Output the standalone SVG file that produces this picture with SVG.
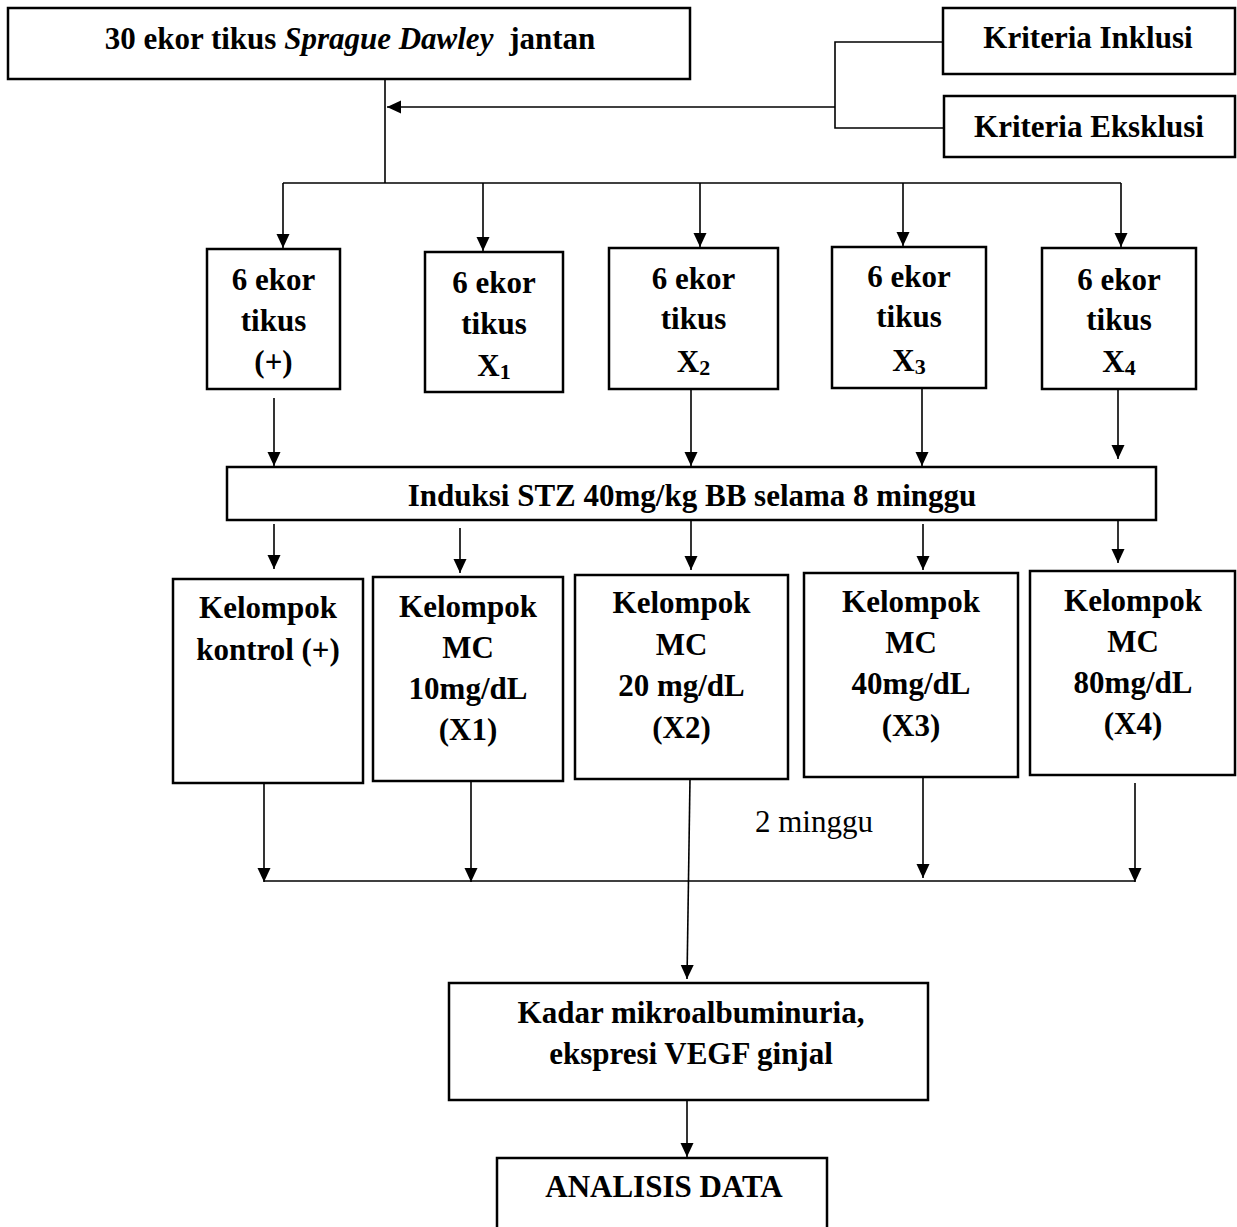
<svg xmlns="http://www.w3.org/2000/svg" width="1237" height="1227" viewBox="0 0 1237 1227">
<style>
.box{fill:#fff;stroke:#000;stroke-width:2.5}
.t{font-family:"Liberation Serif","Times New Roman",serif;font-weight:bold;font-size:31px;text-anchor:middle;fill:#000}
.r{font-family:"Liberation Serif","Times New Roman",serif;font-size:31px;text-anchor:middle;fill:#000}
.sub{font-size:22px}
.c{fill:none;stroke:#000;stroke-width:1.6}
</style>
<defs>
<marker id="ah" markerUnits="userSpaceOnUse" markerWidth="14" markerHeight="14" viewBox="0 0 14 14" refX="14" refY="7" orient="auto">
<path d="M0,0.5 L14,7 L0,13.5 Z" fill="#000"/>
</marker>
</defs>
<rect width="1237" height="1227" fill="#fff"/>
<g id="connectors">
<polyline class="c" points="943,42 835,42 835,128 944,128"/>
<line class="c" x1="835" y1="107" x2="387" y2="107" marker-end="url(#ah)"/>
<line class="c" x1="385" y1="79" x2="385" y2="183"/>
<line class="c" x1="283" y1="183" x2="1121" y2="183"/>
<line class="c" x1="283" y1="183" x2="283" y2="248" marker-end="url(#ah)"/>
<line class="c" x1="483" y1="183" x2="483" y2="251" marker-end="url(#ah)"/>
<line class="c" x1="700" y1="183" x2="700" y2="247" marker-end="url(#ah)"/>
<line class="c" x1="903" y1="183" x2="903" y2="246" marker-end="url(#ah)"/>
<line class="c" x1="1121" y1="183" x2="1121" y2="247" marker-end="url(#ah)"/>
<line class="c" x1="274" y1="398" x2="274" y2="466" marker-end="url(#ah)"/>
<line class="c" x1="691" y1="390" x2="691" y2="466" marker-end="url(#ah)"/>
<line class="c" x1="922" y1="389" x2="922" y2="466" marker-end="url(#ah)"/>
<line class="c" x1="1118" y1="390" x2="1118" y2="459" marker-end="url(#ah)"/>
<line class="c" x1="274" y1="524" x2="274" y2="569" marker-end="url(#ah)"/>
<line class="c" x1="460" y1="528" x2="460" y2="573" marker-end="url(#ah)"/>
<line class="c" x1="691" y1="521" x2="691" y2="570" marker-end="url(#ah)"/>
<line class="c" x1="923" y1="524" x2="923" y2="570" marker-end="url(#ah)"/>
<line class="c" x1="1118" y1="521" x2="1118" y2="563" marker-end="url(#ah)"/>
<line class="c" x1="264" y1="780" x2="264" y2="882" marker-end="url(#ah)"/>
<line class="c" x1="471" y1="781" x2="471" y2="882" marker-end="url(#ah)"/>
<line class="c" x1="923" y1="777" x2="923" y2="878" marker-end="url(#ah)"/>
<line class="c" x1="1135" y1="783" x2="1135" y2="882" marker-end="url(#ah)"/>
<line class="c" x1="264" y1="881" x2="1135" y2="881"/>
<line class="c" x1="690" y1="779" x2="687" y2="979" marker-end="url(#ah)"/>
<line class="c" x1="687" y1="1100" x2="687" y2="1157" marker-end="url(#ah)"/>
</g>
<g id="n-top">
<rect class="box" x="8" y="8" width="682" height="71"/>
<text class="t" x="350" y="49">30 ekor tikus <tspan font-style="italic">Sprague Dawley</tspan><tspan dx="8"> jantan</tspan></text>
</g>
<g id="n-inklusi">
<rect class="box" x="943" y="8" width="292" height="66"/>
<text class="t" x="1088" y="48">Kriteria Inklusi</text>
</g>
<g id="n-eksklusi">
<rect class="box" x="944" y="96" width="291" height="61"/>
<text class="t" x="1089" y="137">Kriteria Eksklusi</text>
</g>
<g id="n-g1">
<rect class="box" x="207" y="249" width="133" height="140"/>
<text class="t" x="273.5" y="290">6 ekor</text>
<text class="t" x="273.5" y="331">tikus</text>
<text class="t" x="273.5" y="372">(+)</text>
</g>
<g id="n-g2">
<rect class="box" x="425" y="252" width="138" height="140"/>
<text class="t" x="494" y="293">6 ekor</text>
<text class="t" x="494" y="334">tikus</text>
<text class="t" x="494" y="376">X<tspan class="sub" dy="3">1</tspan></text>
</g>
<g id="n-g3">
<rect class="box" x="609" y="248" width="169" height="141"/>
<text class="t" x="693.5" y="289">6 ekor</text>
<text class="t" x="693.5" y="329">tikus</text>
<text class="t" x="693.5" y="372">X<tspan class="sub" dy="3">2</tspan></text>
</g>
<g id="n-g4">
<rect class="box" x="832" y="247" width="154" height="141"/>
<text class="t" x="909" y="287">6 ekor</text>
<text class="t" x="909" y="327">tikus</text>
<text class="t" x="909" y="371">X<tspan class="sub" dy="3">3</tspan></text>
</g>
<g id="n-g5">
<rect class="box" x="1042" y="248" width="154" height="141"/>
<text class="t" x="1119" y="290">6 ekor</text>
<text class="t" x="1119" y="330">tikus</text>
<text class="t" x="1119" y="372">X<tspan class="sub" dy="3">4</tspan></text>
</g>
<g id="n-induksi">
<rect class="box" x="227" y="467" width="929" height="53"/>
<text class="t" x="692" y="506">Induksi STZ 40mg/kg BB selama 8 minggu</text>
</g>
<g id="n-k1">
<rect class="box" x="173" y="579" width="190" height="204"/>
<text class="t" x="268" y="618">Kelompok</text>
<text class="t" x="268" y="660">kontrol (+)</text>
</g>
<g id="n-k2">
<rect class="box" x="373" y="577" width="190" height="204"/>
<text class="t" x="468" y="617">Kelompok</text>
<text class="t" x="468" y="658">MC</text>
<text class="t" x="468" y="699">10mg/dL</text>
<text class="t" x="468" y="740">(X1)</text>
</g>
<g id="n-k3">
<rect class="box" x="575" y="575" width="213" height="204"/>
<text class="t" x="681.5" y="613">Kelompok</text>
<text class="t" x="681.5" y="655">MC</text>
<text class="t" x="681.5" y="696">20 mg/dL</text>
<text class="t" x="681.5" y="738">(X2)</text>
</g>
<g id="n-k4">
<rect class="box" x="804" y="573" width="214" height="204"/>
<text class="t" x="911" y="612">Kelompok</text>
<text class="t" x="911" y="653">MC</text>
<text class="t" x="911" y="694">40mg/dL</text>
<text class="t" x="911" y="736">(X3)</text>
</g>
<g id="n-k5">
<rect class="box" x="1030" y="571" width="205" height="204"/>
<text class="t" x="1133" y="611">Kelompok</text>
<text class="t" x="1133" y="652">MC</text>
<text class="t" x="1133" y="693">80mg/dL</text>
<text class="t" x="1133" y="734">(X4)</text>
</g>
<g id="label-2minggu">
<text class="r" x="814" y="832">2 minggu</text>
</g>
<g id="n-kadar">
<rect class="box" x="449" y="983" width="479" height="117"/>
<text class="t" x="691" y="1023">Kadar mikroalbuminuria,</text>
<text class="t" x="691" y="1064">ekspresi VEGF ginjal</text>
</g>
<g id="n-analisis">
<rect class="box" x="497" y="1158" width="330" height="100"/>
<text class="t" x="664" y="1197">ANALISIS DATA</text>
</g>
</svg>
